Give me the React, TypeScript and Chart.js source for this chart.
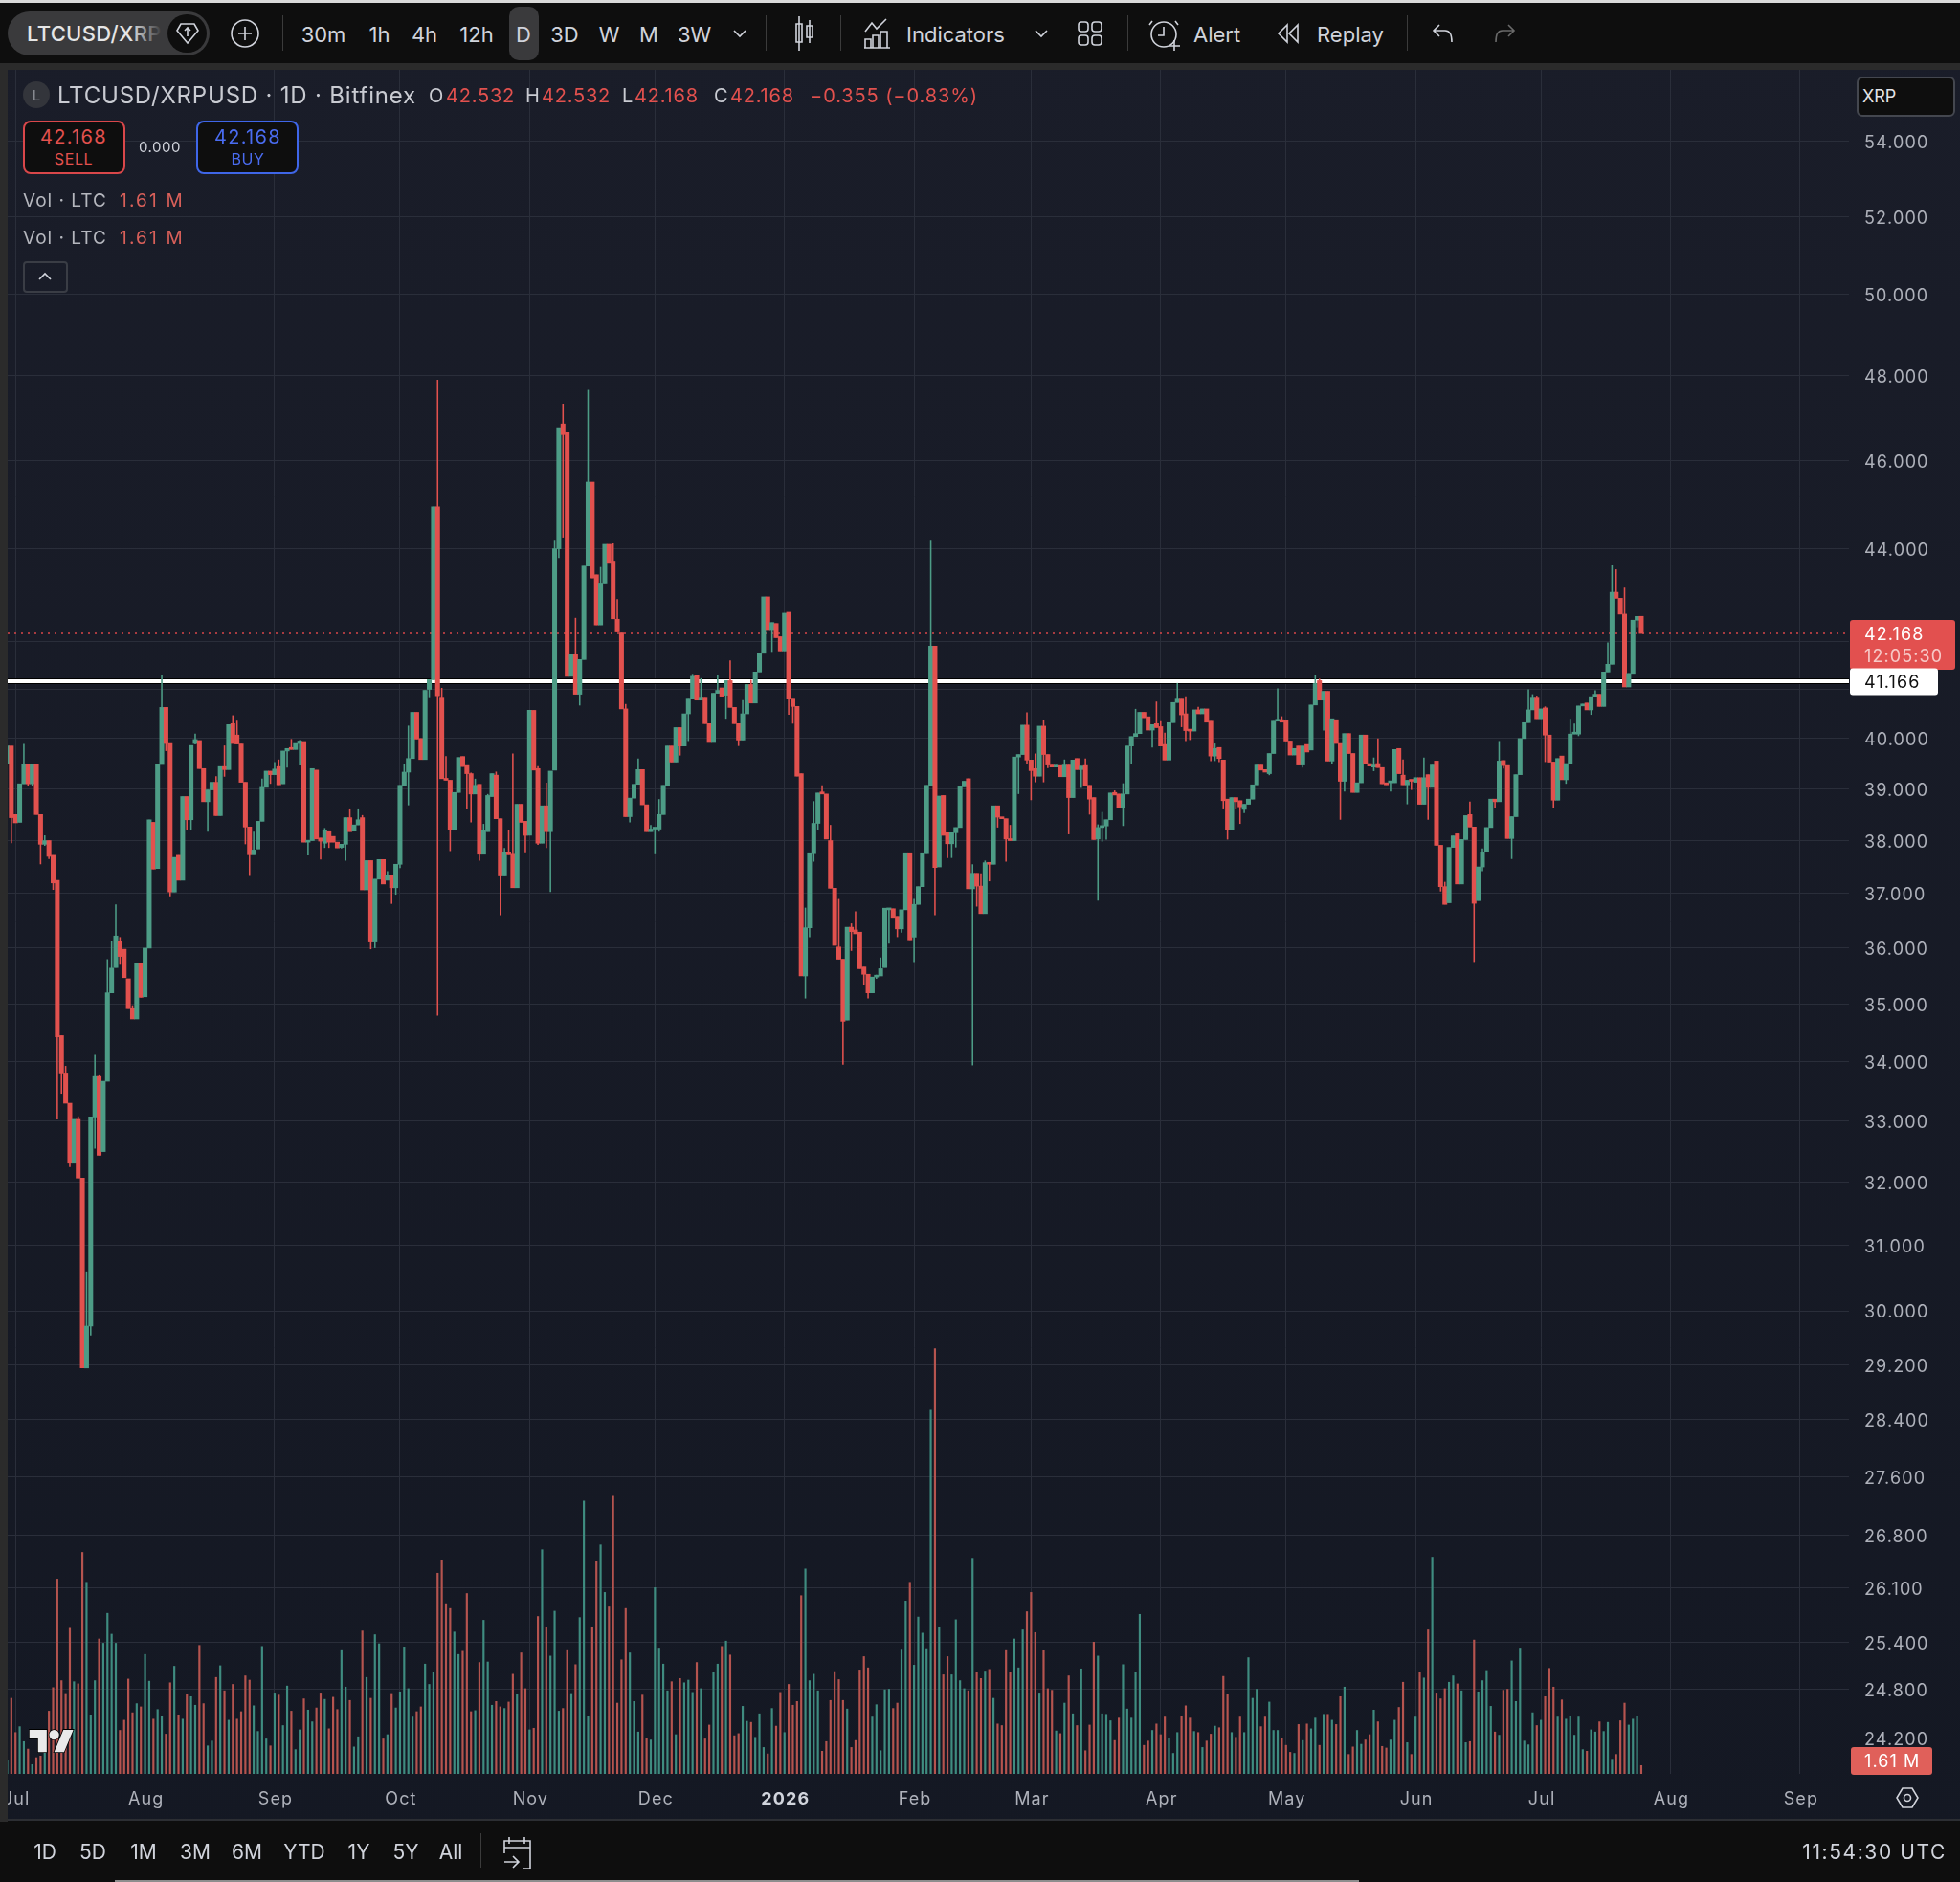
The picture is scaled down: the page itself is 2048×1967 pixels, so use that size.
import React, { useEffect, useRef } from "react";
import { Chart, registerables } from "chart.js";

Chart.register(...registerables);

// Days are counted from 1 Jul 2025 (day 0). The first candle is day -2.
const firstDay = -2;

const opens = [
  39.5, 39.85,
  38.5, 38.35, 39.1, 39.48, 39.1, 39.48, 38.5, 37.93, 38.0, 37.72,
  37.25, 34.45, 33.81, 33.3, 32.31, 33.03, 32.07, 29.15, 29.77, 33.07,
  33.75, 32.5, 33.67, 35.2, 35.65, 36.12, 35.98, 35.45, 34.92, 34.74,
  35.73, 35.13, 36.0, 38.35, 37.47, 39.48, 40.63, 39.9, 37.03, 37.72,
  37.25, 38.85, 38.4, 39.9, 39.96, 39.4, 38.75, 38.98, 39.13, 38.48,
  39.44, 39.38, 40.3, 40.07, 39.89, 39.13, 38.26, 37.73, 37.84, 38.37,
  39.03, 39.35, 39.28, 39.44, 39.1, 39.75, 39.82, 39.78, 39.9, 39.94,
  37.97, 38.0, 39.37, 38.05, 37.95, 38.17, 38.08, 37.97, 37.87, 37.93,
  38.44, 38.18, 38.3, 38.44, 37.07, 37.62, 36.11, 37.27, 37.64, 37.25,
  37.34, 37.11, 37.55, 39.07, 39.33, 39.6, 40.53, 40.0, 39.58, 41.0,
  41.2, 44.94, 40.82, 39.2, 39.17, 38.2, 38.93, 39.64, 39.46, 39.3,
  38.9, 39.09, 37.74, 38.17, 38.85, 39.27, 38.42, 37.33, 37.77, 37.74,
  37.11, 38.7, 38.37, 38.1, 40.57, 39.4, 37.95, 38.67, 38.17, 39.37,
  44.0, 46.85, 46.65, 41.27, 41.72, 40.9, 41.62, 43.62, 45.5, 43.43,
  42.35, 43.25, 44.1, 43.73, 42.47, 42.18, 40.6, 38.46, 38.82, 39.09,
  39.38, 38.69, 38.17, 38.22, 38.22, 38.5, 39.07, 39.85, 39.53, 40.22,
  39.85, 40.5, 40.8, 41.3, 40.78, 40.82, 40.3, 39.92, 40.92, 41.03,
  40.88, 41.18, 40.63, 40.3, 39.97, 40.5, 41.1, 40.72, 41.36, 41.75,
  42.95, 42.25, 42.38, 42.1, 41.8, 42.62, 40.8, 40.65, 39.3, 35.5,
  36.37, 37.75, 38.33, 38.94, 38.9, 38.0, 37.1, 36.02, 35.8, 34.72,
  36.38, 36.33, 36.29, 35.66, 35.53, 35.2, 35.48, 35.5, 35.65, 36.7,
  36.72, 36.58, 36.35, 36.7, 37.75, 36.2, 36.8, 37.13, 37.75, 39.07,
  41.9, 37.5, 38.87, 38.15, 37.94, 38.15, 38.25, 39.04, 39.2, 37.09,
  37.38, 37.14, 36.63, 37.58, 37.55, 38.67, 38.45, 38.42, 38.03, 38.0,
  39.63, 39.68, 40.27, 39.57, 39.4, 39.25, 40.25, 39.68, 39.47, 39.43,
  39.46, 39.24, 39.47, 38.83, 39.6, 39.38, 39.46, 39.07, 38.83, 38.03,
  38.25, 38.28, 38.4, 38.93, 38.9, 38.63, 38.9, 39.85, 40.04, 40.1,
  40.53, 40.44, 40.17, 40.3, 40.24, 39.88, 39.57, 40.32, 40.73, 40.8,
  40.5, 40.18, 40.15, 40.58, 40.5, 40.6, 40.35, 39.65, 39.82, 39.57,
  38.8, 38.2, 38.83, 38.77, 38.6, 38.7, 38.8, 39.08, 39.47, 39.38,
  39.3, 39.7, 40.35, 40.38, 40.36, 39.95, 39.67, 39.85, 39.47, 39.88,
  39.77, 40.68, 41.18, 40.78, 40.96, 39.55, 40.38, 39.9, 39.15, 40.1,
  39.7, 38.93, 39.12, 40.07, 39.5, 39.43, 39.5, 39.42, 39.12, 39.12,
  39.12, 39.8, 39.27, 39.08, 39.18, 39.13, 39.22, 38.7, 39.28, 39.03,
  39.55, 37.91, 37.13, 36.83, 37.87, 38.13, 37.18, 38.02, 38.5, 38.26,
  36.87, 37.5, 37.78, 38.25, 38.8, 38.75, 39.56, 39.46, 38.04, 38.46,
  39.28, 40.0, 40.32, 40.58, 40.82, 40.4, 40.62, 40.07, 39.53, 38.78,
  39.65, 39.18, 39.5, 40.09, 40.09, 40.66, 40.72, 40.58, 40.85, 40.9,
  40.65, 41.36, 41.52, 43.05, 42.92, 42.58, 41.05, 41.33, 42.45, 42.532,
];

const closes = [
  39.85, 38.44,
  38.34, 39.1, 39.48, 39.1, 39.48, 38.5, 37.93, 38.0, 37.7, 37.2,
  34.43, 33.81, 33.3, 32.31, 33.03, 32.07, 29.15, 29.77, 33.07, 33.75,
  32.44, 33.67, 35.2, 35.64, 36.22, 35.85, 35.47, 34.92, 34.74, 35.73,
  35.12, 36.0, 38.4, 37.46, 39.48, 40.63, 39.9, 37.03, 37.68, 37.25,
  38.85, 38.4, 39.86, 39.98, 39.4, 38.75, 38.98, 39.13, 38.48, 39.44,
  39.38, 40.28, 39.9, 39.89, 39.13, 38.26, 37.73, 37.82, 38.37, 39.03,
  39.35, 39.28, 39.39, 39.08, 39.75, 39.8, 39.78, 39.9, 39.95, 37.97,
  38.0, 39.4, 38.03, 37.99, 38.2, 37.97, 37.97, 37.86, 37.93, 38.44,
  38.17, 38.3, 38.4, 37.07, 37.62, 36.11, 37.27, 37.64, 37.18, 37.34,
  37.11, 37.55, 39.07, 39.33, 39.6, 40.53, 39.99, 39.58, 40.98, 41.2,
  44.94, 40.87, 39.2, 39.17, 38.2, 38.93, 39.62, 39.44, 39.3, 38.9,
  39.07, 37.74, 38.2, 38.87, 39.3, 38.42, 37.33, 37.77, 37.73, 37.11,
  38.7, 38.35, 38.1, 40.57, 39.37, 37.95, 38.67, 38.17, 39.35, 44.0,
  46.76, 46.6, 41.27, 41.72, 40.9, 41.62, 43.62, 45.5, 43.36, 42.35,
  43.25, 44.1, 43.7, 42.48, 42.2, 40.6, 38.46, 38.82, 39.09, 39.38,
  38.69, 38.17, 38.22, 38.24, 38.5, 39.07, 39.85, 39.53, 40.22, 39.85,
  40.5, 40.8, 41.27, 40.78, 40.82, 40.3, 39.92, 40.92, 40.98, 40.86,
  41.18, 40.63, 40.3, 39.97, 40.5, 41.1, 40.72, 41.36, 41.75, 42.95,
  42.25, 42.4, 42.08, 41.8, 42.6, 40.8, 40.65, 39.25, 35.5, 36.37,
  37.75, 38.33, 38.92, 38.9, 38.03, 37.1, 36.05, 35.8, 34.7, 36.38,
  36.3, 36.26, 35.63, 35.53, 35.2, 35.48, 35.51, 35.63, 36.73, 36.73,
  36.56, 36.35, 36.7, 37.75, 36.15, 36.8, 37.13, 37.75, 39.07, 41.9,
  37.49, 38.86, 38.1, 37.94, 38.15, 38.25, 39.04, 39.15, 37.09, 37.38,
  37.14, 36.63, 37.58, 37.55, 38.67, 38.45, 38.42, 38.03, 38.0, 39.63,
  39.68, 40.27, 39.57, 39.36, 39.25, 40.25, 39.68, 39.47, 39.43, 39.46,
  39.24, 39.47, 38.83, 39.57, 39.38, 39.45, 39.07, 38.8, 38.02, 38.25,
  38.28, 38.4, 38.92, 38.88, 38.63, 38.9, 39.85, 40.04, 40.1, 40.53,
  40.42, 40.17, 40.28, 40.22, 39.85, 39.57, 40.32, 40.73, 40.8, 40.48,
  40.16, 40.15, 40.58, 40.5, 40.6, 40.33, 39.65, 39.8, 39.6, 38.77,
  38.2, 38.83, 38.75, 38.65, 38.7, 38.8, 39.08, 39.47, 39.37, 39.33,
  39.7, 40.35, 40.38, 40.33, 39.95, 39.67, 39.8, 39.47, 39.85, 39.73,
  40.68, 41.12, 40.78, 40.96, 39.55, 40.4, 39.9, 39.15, 40.1, 39.7,
  38.93, 39.12, 40.07, 39.5, 39.45, 39.47, 39.42, 39.1, 39.08, 39.14,
  39.78, 39.3, 39.08, 39.17, 39.15, 39.22, 38.7, 39.22, 39.03, 39.47,
  37.91, 37.13, 36.8, 37.87, 38.09, 37.18, 38.02, 38.48, 38.26, 36.82,
  37.5, 37.78, 38.25, 38.8, 38.75, 39.55, 39.46, 38.04, 38.46, 39.28,
  40.0, 40.32, 40.58, 40.82, 40.4, 40.6, 40.07, 39.53, 38.78, 39.6,
  39.18, 39.5, 40.09, 40.1, 40.66, 40.7, 40.58, 40.85, 40.9, 40.65,
  41.36, 41.52, 43.05, 42.92, 42.58, 41.05, 41.33, 42.45, 42.53, 42.168,
];

const highs = [
  39.85, 39.85,
  38.5, 39.1, 39.89, 39.48, 39.48, 39.48, 38.5, 38.1, 38.0, 37.72,
  37.25, 34.45, 33.93, 33.3, 33.03, 33.08, 32.07, 30.6, 33.07, 34.12,
  33.77, 33.67, 35.8, 36.12, 36.8, 36.2, 35.98, 35.45, 34.98, 35.73,
  35.73, 36.0, 38.4, 38.35, 39.48, 41.3, 40.63, 39.9, 37.68, 37.72,
  38.85, 38.85, 39.86, 40.1, 39.96, 39.4, 38.98, 39.13, 39.25, 39.44,
  39.86, 40.28, 40.47, 40.36, 39.89, 39.13, 38.26, 38.17, 38.37, 39.2,
  39.35, 39.35, 39.53, 39.58, 39.75, 39.8, 39.99, 39.9, 39.97, 39.94,
  38.0, 39.4, 39.37, 38.05, 38.24, 38.17, 38.08, 37.97, 37.93, 38.44,
  38.6, 38.3, 38.6, 38.49, 37.62, 37.62, 37.27, 37.64, 37.64, 37.42,
  37.34, 37.55, 39.07, 39.5, 40.26, 40.53, 40.53, 40.0, 40.98, 41.2,
  44.94, 47.9, 41.03, 39.65, 39.17, 38.93, 39.62, 39.64, 39.46, 39.32,
  39.2, 39.09, 38.32, 38.9, 39.3, 39.34, 38.42, 37.86, 38.2, 39.7,
  38.7, 38.7, 38.37, 40.57, 40.57, 39.45, 38.67, 39.12, 39.35, 44.2,
  46.76, 47.33, 46.65, 41.72, 42.5, 41.62, 43.62, 47.66, 45.5, 43.43,
  43.6, 44.1, 44.1, 44.12, 42.9, 42.18, 40.7, 38.82, 39.09, 39.6,
  39.38, 38.69, 38.3, 38.24, 38.8, 39.07, 39.85, 39.85, 40.22, 40.22,
  40.5, 40.8, 41.32, 41.3, 41.23, 40.82, 40.3, 40.92, 41.29, 41.03,
  41.18, 41.6, 40.63, 40.3, 40.78, 41.1, 41.2, 41.36, 41.75, 42.95,
  42.95, 42.4, 42.38, 42.1, 42.6, 42.62, 40.8, 40.65, 39.3, 36.74,
  37.75, 38.76, 38.92, 39.07, 38.9, 38.3, 37.1, 36.9, 35.8, 36.38,
  36.45, 36.67, 36.29, 35.66, 35.53, 35.48, 35.52, 35.83, 36.73, 36.73,
  36.72, 36.58, 36.7, 37.75, 37.75, 36.9, 37.13, 37.75, 39.07, 44.2,
  41.9, 38.86, 38.87, 38.15, 38.15, 38.25, 39.04, 39.15, 39.2, 37.55,
  37.38, 37.38, 37.62, 37.58, 38.67, 38.67, 38.45, 38.42, 38.3, 39.63,
  39.68, 40.27, 40.53, 39.57, 39.7, 40.25, 40.38, 39.68, 39.47, 39.47,
  39.46, 39.58, 39.47, 39.57, 39.6, 39.45, 39.6, 39.07, 38.83, 38.31,
  38.55, 38.4, 38.92, 38.97, 38.9, 39.11, 39.85, 40.04, 40.6, 40.53,
  40.53, 40.44, 40.28, 40.75, 40.35, 40.12, 40.32, 40.73, 41.13, 40.8,
  40.86, 40.18, 40.58, 40.64, 40.6, 40.6, 40.35, 39.9, 39.82, 39.57,
  38.8, 38.83, 38.83, 38.77, 38.7, 38.8, 39.08, 39.47, 39.47, 39.38,
  39.7, 40.35, 41.02, 40.45, 40.36, 39.95, 39.8, 39.85, 39.85, 39.88,
  40.68, 41.3, 41.22, 40.96, 40.96, 40.4, 40.38, 39.9, 40.1, 40.1,
  39.7, 39.12, 40.07, 40.07, 39.5, 39.62, 40.0, 39.42, 39.12, 39.14,
  39.78, 39.8, 39.58, 39.17, 39.18, 39.22, 39.22, 39.62, 39.28, 39.47,
  39.55, 37.91, 37.22, 37.87, 38.09, 38.13, 38.02, 38.48, 38.75, 38.26,
  37.5, 37.85, 38.25, 38.8, 38.8, 39.95, 39.56, 39.46, 38.46, 39.28,
  40.0, 40.32, 41.0, 40.9, 40.87, 40.6, 40.65, 40.07, 39.53, 39.6,
  39.65, 39.5, 40.4, 40.3, 40.66, 40.7, 40.72, 40.85, 40.98, 40.9,
  41.36, 41.98, 43.65, 43.55, 42.92, 43.15, 41.33, 42.45, 42.53, 42.532,
];

const lows = [
  39.5, 37.95,
  38.34, 38.35, 39.1, 39.05, 39.05, 38.5, 37.55, 37.9, 37.65, 37.07,
  33.03, 33.46, 33.3, 32.25, 32.31, 32.07, 29.15, 29.15, 29.63, 32.55,
  32.44, 32.5, 33.67, 35.2, 35.65, 35.7, 35.47, 34.92, 34.74, 34.74,
  35.12, 35.13, 36.0, 37.46, 37.47, 39.48, 39.75, 36.95, 37.03, 37.25,
  37.25, 38.2, 38.2, 39.88, 39.4, 38.75, 38.17, 38.98, 38.48, 38.48,
  39.24, 39.38, 39.9, 39.89, 39.13, 37.93, 37.33, 37.73, 37.84, 38.37,
  39.03, 39.1, 39.28, 39.08, 39.1, 39.42, 39.78, 39.78, 39.46, 37.97,
  37.72, 38.0, 38.03, 37.64, 37.86, 37.86, 37.97, 37.86, 37.85, 37.62,
  38.17, 38.18, 38.3, 37.07, 37.07, 35.98, 36.0, 37.27, 37.18, 37.25,
  36.81, 36.98, 37.48, 39.07, 38.68, 39.6, 39.99, 39.58, 39.58, 40.82,
  41.2, 34.8, 39.2, 39.17, 37.8, 38.2, 38.93, 39.44, 38.6, 38.35,
  38.9, 37.62, 37.74, 38.17, 38.85, 38.42, 36.6, 37.33, 37.73, 37.11,
  37.11, 38.35, 37.76, 38.1, 39.37, 37.92, 37.95, 37.86, 37.03, 39.37,
  43.8, 44.25, 41.27, 41.27, 40.9, 40.67, 41.62, 43.62, 43.36, 42.35,
  42.35, 43.25, 43.7, 42.48, 42.2, 40.6, 38.46, 38.35, 38.82, 39.09,
  38.69, 38.17, 38.17, 37.74, 38.17, 38.5, 39.07, 39.53, 39.53, 39.66,
  39.85, 39.95, 40.8, 40.78, 40.78, 40.3, 39.92, 39.92, 40.92, 40.86,
  40.4, 40.63, 40.3, 39.85, 39.97, 40.5, 40.72, 40.72, 41.36, 41.75,
  42.25, 41.78, 42.08, 41.8, 41.8, 40.48, 40.3, 39.25, 35.5, 35.1,
  36.2, 37.6, 38.2, 38.9, 38.03, 37.1, 36.05, 35.8, 33.95, 34.72,
  35.95, 36.26, 35.63, 35.33, 35.1, 35.2, 35.45, 35.5, 35.65, 36.08,
  36.56, 36.2, 36.28, 36.7, 36.15, 35.75, 36.8, 37.13, 37.75, 39.07,
  36.6, 37.5, 38.1, 37.67, 37.67, 37.87, 38.25, 39.04, 37.09, 33.94,
  36.76, 36.63, 36.63, 37.23, 37.55, 38.25, 38.42, 37.6, 38.0, 38.0,
  38.9, 39.68, 39.5, 38.78, 39.13, 39.25, 39.13, 39.41, 39.43, 39.43,
  39.24, 39.24, 38.12, 38.83, 39.38, 39.02, 39.07, 38.5, 38.02, 36.87,
  37.98, 38.02, 38.4, 38.88, 38.63, 38.28, 38.9, 39.5, 40.04, 40.1,
  40.42, 40.17, 39.82, 40.22, 39.85, 39.57, 39.57, 40.32, 40.73, 40.23,
  39.95, 39.97, 40.15, 40.5, 40.5, 40.33, 39.55, 39.55, 39.53, 38.6,
  38.02, 38.2, 38.6, 38.32, 38.53, 38.7, 38.8, 39.08, 39.37, 39.33,
  39.27, 39.7, 40.35, 40.33, 39.95, 39.67, 39.67, 39.47, 39.42, 39.73,
  39.77, 40.68, 40.78, 40.16, 39.55, 39.5, 39.9, 38.4, 38.95, 39.7,
  38.93, 38.93, 39.12, 39.5, 39.45, 39.35, 39.42, 39.1, 39.08, 38.95,
  39.12, 39.3, 39.08, 38.7, 38.98, 39.13, 38.7, 38.7, 38.4, 39.03,
  37.91, 37.04, 36.8, 36.83, 37.87, 37.18, 37.18, 38.02, 38.26, 35.75,
  36.87, 37.42, 37.78, 38.25, 38.62, 38.75, 39.4, 38.04, 37.65, 38.46,
  39.28, 40.0, 40.32, 40.58, 40.4, 40.4, 39.53, 39.53, 38.62, 38.78,
  39.18, 39.1, 39.5, 40.09, 40.05, 40.66, 40.58, 40.48, 40.85, 40.65,
  40.65, 41.36, 41.52, 42.92, 42.58, 41.05, 41.05, 41.33, 42.3, 42.168,
];

// Volume, millions of LTC
const volumes = [
  2.6, 14.2,
  7.8, 8.9, 6.1, 4.7, 1.8, 3.1, 3.4, 4.9, 11.8, 16.2,
  36.5, 17.5, 15.1, 27.3, 17.3, 16.9, 41.5, 35.9, 11.1, 17.5,
  25.3, 24.5, 30.1, 26.2, 24.5, 8.2, 10.1, 17.8, 11.5, 13.2,
  12.6, 22.4, 17.4, 10.3, 12.1, 10.9, 7.5, 17.1, 20.2, 11.1,
  10.3, 15, 14.5, 12.9, 24.1, 13.2, 5.3, 6.2, 18.1, 20.3,
  15.6, 10.1, 16.8, 10.3, 11.7, 18.4, 17.6, 12.8, 8, 23.9,
  6.6, 5.3, 15.2, 14.8, 9.1, 16.5, 11.8, 4.6, 8.3, 14.1,
  12, 9.8, 12.4, 15.2, 14, 8.5, 14.4, 12.1, 23.3, 16.3,
  13.8, 5.1, 7, 26.8, 18.1, 14.2, 26.1, 24.4, 6.6, 7.4,
  15.1, 12.4, 15.4, 23.8, 16, 10.7, 11.7, 12.6, 20.6, 16.8,
  19.1, 37.6, 40.1, 31.9, 31, 26.6, 22.4, 23, 33.8, 11.7,
  11.9, 20.9, 28.8, 21, 12.9, 13.6, 12.6, 12.3, 13.5, 18.7,
  15, 22.7, 16, 8.3, 8.6, 29.5, 42, 27.5, 22.1, 30.5,
  11.8, 12.3, 23.3, 15.1, 20.5, 29.3, 51.1, 10.9, 27.5, 39.8,
  42.9, 34, 31.3, 52, 13.3, 21.4, 31, 22.7, 13.6, 7.9,
  14.8, 6.7, 6.4, 34.9, 23.6, 20.6, 15.6, 17.3, 7.4, 17.9,
  17.1, 17.6, 15.3, 20.9, 16, 6.6, 9.2, 19, 20.6, 23.9,
  24.9, 22.3, 7.2, 7.6, 12.7, 9.9, 9.7, 6.9, 11.3, 5,
  3.8, 12.3, 9, 15.3, 7.8, 16.8, 12.9, 13.6, 33.4, 38.4,
  17.5, 18.7, 15.6, 4.3, 6.1, 13.8, 19.2, 17.7, 13.8, 12.2,
  5, 6.3, 19.5, 22, 19.9, 10.7, 13, 4.4, 15.8, 15.9,
  12.3, 13.3, 23.4, 32.4, 35.9, 20.4, 29.4, 26.4, 23.5, 68.1,
  79.6, 27.4, 18.6, 22, 18.6, 28.9, 17.5, 16, 15.6, 40.4,
  19.1, 17.9, 19.3, 19.6, 14.2, 9.4, 9.1, 23.3, 19, 25.3,
  19.9, 27, 30.4, 34, 26.5, 15.2, 23.2, 16, 15.7, 8.1,
  7.6, 13.3, 18.4, 11.3, 9.1, 19.7, 4.4, 9.2, 24.7, 22.1,
  11.3, 11.2, 10, 6.3, 10.5, 20.5, 12.2, 10.5, 19, 29.9,
  5.4, 6.2, 8.2, 9.4, 7.4, 10.7, 6.7, 3.9, 7.8, 10.9,
  12.8, 10.5, 8, 7.8, 5, 6.2, 7.5, 9, 8.7, 18.3,
  14.9, 7.8, 6.9, 10.7, 7.8, 21.8, 14.2, 15.9, 8.9, 10.7,
  13.5, 8.2, 8.2, 6.7, 5.4, 4.1, 3.9, 9.3, 6.3, 9.4,
  8.5, 10.5, 5.4, 11.2, 11.2, 10.1, 9.3, 14.5, 16.3, 3.7,
  5.1, 8.2, 5.6, 6.4, 7.4, 12, 9.8, 5.2, 4.9, 6.4,
  10.1, 12.5, 17.2, 5.9, 3.7, 10.7, 19.1, 18, 27, 40.6,
  15.2, 14.1, 16, 17.2, 18.4, 16.9, 15.6, 5.9, 6.1, 25.1,
  15.4, 17.5, 19.4, 12.7, 7.9, 7.3, 15.7, 15.9, 21.2, 13.6,
  23.6, 6.2, 5.5, 11.5, 9.1, 10.1, 14.5, 19.8, 16.3, 10.7,
  13.9, 10.3, 10.9, 7.3, 10.7, 4.6, 4.3, 8.3, 7.9, 9.8,
  8, 9.7, 2.8, 3.7, 10, 13.3, 9.2, 10.3, 10.9, 1.61,
];

const priceTicks = [
  54, 52, 50, 48, 46, 44, 42, 41, 40, 39, 38, 37, 36, 35, 34, 33, 32, 31, 30,
  29.2, 28.4, 27.6, 26.8, 26.1, 25.4, 24.8, 24.2,
];
// Grid lines with no label: the price badges sit on them.
const unlabelledTicks = [42, 41];
const monthDays = [0, 31, 62, 92, 123, 153, 184, 215, 243, 274, 304, 335, 365, 396, 427];
const monthLabels = ["Jul", "Aug", "Sep", "Oct", "Nov", "Dec", "2026", "Feb", "Mar", "Apr", "May", "Jun", "Jul", "Aug", "Sep"];
const yearDay = 184;

const lastPrice = 42.168;
const levelPrice = 41.166;
const lastVolume = 1.61;
const countdown = "12:05:30";

const xMin = -1.878;
const xMax = 438.7;
const yMin = 23.77;
const yMax = 55.98;
const volMax = 318.8;

const rangeItems: [string, number][] = [["1D", 47], ["5D", 97], ["1M", 150], ["3M", 204], ["6M", 258], ["YTD", 318], ["1Y", 375], ["5Y", 424], ["All", 471]];
const intervalItems: [string, number][] = [["30m", 338], ["1h", 396.5], ["4h", 443.5], ["12h", 498], ["D", 547], ["3D", 590], ["W", 636.5], ["M", 678], ["3W", 725.6]];

const GREEN = "#4d9c86";
const RED = "#e2514e";
const VOL_GREEN = "#3f8c80";
const VOL_RED = "#b5544f";
const FONT = "Inter, 'Noto Sans', sans-serif";

const days = opens.map((_, i) => i + firstDay);
const isUp = (i: number) => closes[i] >= opens[i];

const Txt = ({ x, y, c = "#d1d4dc", s = 20, w = 400, a = "left", ls = 0, children }: any) => (
  <div
    style={{
      position: "absolute",
      left: x,
      top: y,
      color: c,
      fontSize: s,
      fontWeight: w,
      fontFamily: FONT,
      letterSpacing: ls,
      lineHeight: 1,
      whiteSpace: "nowrap",
      transform: `translate(${a === "center" ? "-50%" : a === "right" ? "-100%" : "0"}, -50%)`,
    }}
  >
    {children}
  </div>
);

const Box = ({ x, y, w, h, bg = "none", b, r = 0 }: any) => (
  <div
    style={{
      position: "absolute",
      left: x,
      top: y,
      width: w,
      height: h,
      background: bg,
      border: b ? `2px solid ${b}` : undefined,
      borderRadius: r,
      boxSizing: "border-box",
    }}
  />
);

const Icon = ({ x, y, w, h, vb, children }: any) => (
  <svg
    style={{ position: "absolute", left: x, top: y }}
    width={w}
    height={h}
    viewBox={vb || `0 0 ${w} ${h}`}
    fill="none"
    stroke="#d1d4dc"
    strokeWidth={1.6}
  >
    {children}
  </svg>
);

const overlayPlugin = {
  id: "priceBadges",
  beforeDraw(chart: any) {
    chart.ctx.letterSpacing = "1.1px";
  },
  afterDraw(chart: any) {
    const { ctx, scales } = chart;
    const yS = scales.y;
    const right = chart.chartArea.right;
    ctx.save();
    ctx.textBaseline = "middle";
    ctx.textAlign = "left";
    // last price badge
    const yLast = yS.getPixelForValue(lastPrice);
    ctx.fillStyle = "#e2504f";
    ctx.beginPath();
    ctx.roundRect(right + 1, yLast - 14, 110, 52, 3);
    ctx.fill();
    ctx.font = `18px ${FONT}`;
    ctx.fillStyle = "#ffffff";
    ctx.fillText(lastPrice.toFixed(3), right + 16, yLast + 1);
    ctx.fillStyle = "#f7c9c7";
    ctx.fillText(countdown, right + 16, yLast + 24);
    // horizontal level badge
    const yLevel = yS.getPixelForValue(levelPrice);
    ctx.fillStyle = "#ffffff";
    ctx.beginPath();
    ctx.roundRect(right + 1, yLevel - 13.5, 92, 28, 3);
    ctx.fill();
    ctx.fillStyle = "#0f0f0f";
    ctx.fillText(levelPrice.toFixed(3), right + 16, yLevel + 1.5);
    // volume badge
    const vS = scales.vol;
    const yVol = vS.getPixelForValue(0);
    ctx.fillStyle = "#e0605a";
    ctx.beginPath();
    ctx.roundRect(right + 2, yVol - 28, 85, 29, 3);
    ctx.fill();
    ctx.fillStyle = "#ffffff";
    ctx.fillText(`${lastVolume.toFixed(2).slice(0, 4)} M`, right + 16, yVol - 12);
    ctx.restore();
  },
};

export default function App() {
  const ref = useRef<HTMLCanvasElement>(null);

  useEffect(() => {
    const shared = { clip: 0, grouped: false, categoryPercentage: 1 };
    const chart = new Chart(ref.current as HTMLCanvasElement, {
      type: "bar",
      data: {
        datasets: [
          {
            type: "line",
            label: "level outline",
            data: [{ x: xMin, y: levelPrice }, { x: xMax, y: levelPrice }],
            borderColor: "#000000",
            borderWidth: 6,
            pointRadius: 0,
            yAxisID: "y",
            order: 9,
          },
          {
            type: "line",
            label: "level",
            data: [{ x: xMin, y: levelPrice }, { x: xMax, y: levelPrice }],
            borderColor: "#ffffff",
            borderWidth: 4,
            pointRadius: 0,
            yAxisID: "y",
            order: 8,
          },
          {
            type: "line",
            label: "last price",
            data: [{ x: xMin, y: lastPrice }, { x: xMax, y: lastPrice }],
            borderColor: "#d8474a",
            borderWidth: 1.5,
            borderDash: [2, 5],
            pointRadius: 0,
            yAxisID: "y",
            order: 7,
          },
          {
            ...shared,
            label: "Vol",
            data: days.map((d, i) => ({ x: d, y: volumes[i] })),
            backgroundColor: days.map((_, i) => (isUp(i) ? VOL_GREEN : VOL_RED)),
            barPercentage: 0.5,
            yAxisID: "vol",
            order: 6,
          },
          {
            ...shared,
            label: "wick",
            data: days.map((d, i) => ({ x: d, y: [lows[i], highs[i]] })),
            backgroundColor: days.map((_, i) => (isUp(i) ? GREEN : RED)),
            barPercentage: 0.36,
            yAxisID: "y",
            order: 2,
          },
          {
            ...shared,
            label: "body",
            data: days.map((d, i) => ({ x: d, y: [opens[i], closes[i]] })),
            backgroundColor: days.map((_, i) => (isUp(i) ? GREEN : RED)),
            barPercentage: 1,
            minBarLength: 2,
            yAxisID: "y",
            order: 1,
          },
        ] as any,
      },
      options: {
        animation: false,
        responsive: false,
        devicePixelRatio: 1,
        events: [],
        layout: { padding: { top: 73, left: 8, right: 0, bottom: 0 } },
        plugins: { legend: { display: false }, tooltip: { enabled: false } },
        scales: {
          x: {
            type: "linear",
            min: xMin,
            max: xMax,
            bounds: "data",
            offset: false,
            afterBuildTicks: (s: any) => {
              s.ticks = monthDays.map((v) => ({ value: v }));
            },
            afterFit: (s: any) => {
              s.height = 113;
              s.paddingLeft = 0;
              s.paddingRight = 0;
            },
            grid: { color: "#2a2e3a", lineWidth: 1, drawTicks: false, offset: false },
            border: { display: false },
            ticks: {
              autoSkip: false,
              maxRotation: 0,
              padding: 16,
              labelOffset: 1,
              color: (c: any) => (c.tick && c.tick.value === yearDay ? "#d1d4dc" : "#aeb1ba"),
              font: (c: any) => ({
                family: FONT,
                size: 18,
                weight: c.tick && c.tick.value === yearDay ? "bold" : "normal",
              }),
              callback: (v: any) => monthLabels[monthDays.indexOf(v)],
            },
          },
          y: {
            type: "logarithmic",
            position: "right",
            min: yMin,
            max: yMax,
            bounds: "data",
            afterBuildTicks: (s: any) => {
              s.ticks = priceTicks.map((v) => ({ value: v }));
            },
            afterFit: (s: any) => {
              s.width = 116;
            },
            grid: { color: "#2a2e3a", lineWidth: 1, drawTicks: false },
            border: { display: false },
            ticks: {
              autoSkip: false,
              padding: 16,
              labelOffset: 2,
              crossAlign: "near",
              color: "#aeb1ba",
              font: { family: FONT, size: 18 },
              callback: (v: any) => (unlabelledTicks.includes(Number(v)) ? "" : Number(v).toFixed(3)),
            },
          },
          vol: {
            type: "linear",
            display: false,
            min: 0,
            max: volMax,
            bounds: "data",
            grid: { display: false },
          },
        },
      } as any,
      plugins: [overlayPlugin],
    });
    return () => chart.destroy();
  }, []);

  return (
    <div style={{ position: "absolute", left: 0, top: 0, width: 2048, height: 1967, overflow: "hidden", background: "#0e0e0e" }}>
      <canvas
        ref={ref}
        width={2048}
        height={1967}
        style={{ position: "absolute", left: 0, top: 0, width: 2048, height: 1967, background: "linear-gradient(#1a1d29, #141823)" }}
      />

      {/* lower panel border and strip */}
      <Box x={8} y={1901} w={2040} h={2} bg="#2c2e33" />
      <Box x={0} y={1903} w={2048} h={64} bg="#0e0e0e" />
      <Box x={120} y={1965} w={1300} h={2} bg="#8d8d8d" />

      {/* top bars */}
      <Box x={0} y={0} w={2048} h={66} bg="#0e0e0e" />
      <Box x={0} y={0} w={2048} h={3} bg="#d9d9d9" />
      <Box x={0} y={66} w={2048} h={7} bg="#2b2b2b" />
      <Box x={0} y={66} w={8} h={1838} bg="#2b2b2b" />

      {/* symbol pill */}
      <Box x={8} y={12} w={211} h={46} bg="#3a3a3c" r={23} />
      <Txt x={28} y={35} s={22} w={500} c="#e6e6e6" ls={0.3}>LTCUSD/XRP</Txt>
      <Box x={136} y={12} w={36} h={46} bg="linear-gradient(90deg, rgba(58,58,60,0), #3a3a3c 92%)" />
      <Box x={175} y={15} w={41} h={40} bg="#0e0e0e" r={20} />
      <Icon x={183} y={23} w={26} h={24}>
        <path d="M6 2h14l4 7-11 13L2 9Z" />
        <path d="M13 6v9M10 9l3-3 3 3" />
      </Icon>
      <Icon x={240} y={19} w={32} h={32}>
        <circle cx={16} cy={16} r={14} />
        <path d="M16 9v14M9 16h14" />
      </Icon>
      <Box x={295} y={16} w={1} h={37} bg="#3b3b3b" />
      <Box x={532} y={7} w={31} h={56} bg="#3a3a3c" r={10} />
      {intervalItems.map(([t, x]) => (
        <Txt key={t} x={x} y={36} s={22} a="center">{t}</Txt>
      ))}
      <Icon x={765} y={30} w={16} h={12}>
        <path d="M2 2l6 6 6-6" />
      </Icon>
      <Box x={800} y={16} w={1} h={37} bg="#3b3b3b" />
      <Icon x={828} y={16} w={24} h={38}>
        <path d="M7 1v36M4 9h6v19H4ZM18 5v24M15 11h6v12h-6Z" />
      </Icon>
      <Box x={878} y={16} w={1} h={37} bg="#3b3b3b" />
      <Icon x={902} y={19} w={30} h={32}>
        <path d="M2 14l7-9 5 6 10-10" />
        <path d="M2 31v-9h6v9M10 31V18h6v13M18 31V14h7v17M1 31h27" />
      </Icon>
      <Txt x={947} y={36} s={22}>Indicators</Txt>
      <Icon x={1080} y={30} w={16} h={12}>
        <path d="M2 2l6 6 6-6" />
      </Icon>
      <Icon x={1126} y={22} w={26} h={26}>
        <rect x={1} y={1} width={10} height={10} rx={3} />
        <rect x={15} y={1} width={10} height={10} rx={3} />
        <rect x={1} y={15} width={10} height={10} rx={3} />
        <rect x={15} y={15} width={10} height={10} rx={3} />
      </Icon>
      <Box x={1178} y={16} w={1} h={37} bg="#3b3b3b" />
      <Icon x={1200} y={18} w={36} h={36}>
        <circle cx={16} cy={18} r={13} />
        <path d="M16 10v9h-6M4 4L1 8M28 4l3 4" />
        <path d="M27 24v11M21 30h12" />
      </Icon>
      <Txt x={1247} y={36} s={22}>Alert</Txt>
      <Icon x={1333} y={24} w={26} h={22}>
        <path d="M12 2L3 11l9 9ZM23 2l-9 9 9 9Z" />
      </Icon>
      <Txt x={1376} y={36} s={22}>Replay</Txt>
      <Box x={1470} y={16} w={1} h={37} bg="#3b3b3b" />
      <Icon x={1496} y={24} w={24} h={22}>
        <path d="M8 2L2 8l6 6M2 8h12c5 0 7 4 7 12" />
      </Icon>
      <Icon x={1560} y={24} w={24} h={22}>
        <path d="M16 2l6 6-6 6M22 8H10C5 8 3 12 3 20" stroke="#6a6a6a" />
      </Icon>

      {/* symbol legend */}
      <Box x={24} y={85} w={28} h={28} bg="#33353b" r={14} />
      <Txt x={38} y={99} s={15} a="center" c="#8d8f96">L</Txt>
      <Txt x={60} y={100} s={24} c="#c9cbd2" ls={0.8}>LTCUSD/XRPUSD · 1D · Bitfinex</Txt>
      <Txt x={448} y={100} s={20} c="#c9cbd2">O</Txt>
      <Txt x={466} y={100} s={20} c={RED} ls={0.8}>42.532</Txt>
      <Txt x={549} y={100} s={20} c="#c9cbd2">H</Txt>
      <Txt x={566} y={100} s={20} c={RED} ls={0.8}>42.532</Txt>
      <Txt x={650} y={100} s={20} c="#c9cbd2">L</Txt>
      <Txt x={663} y={100} s={20} c={RED} ls={0.8}>42.168</Txt>
      <Txt x={746} y={100} s={20} c="#c9cbd2">C</Txt>
      <Txt x={763} y={100} s={20} c={RED} ls={0.8}>42.168</Txt>
      <Txt x={846} y={100} s={20} c={RED} ls={0.9}>−0.355 (−0.83%)</Txt>

      <Box x={24} y={126} w={107} h={56} bg="#0e0e0e" b="#d9474a" r={8} />
      <Txt x={77} y={143} s={20} a="center" c={RED} ls={1.3}>42.168</Txt>
      <Txt x={77} y={166} s={16} a="center" c={RED} ls={0.6}>SELL</Txt>
      <Txt x={167} y={153} s={15} a="center" ls={0.5}>0.000</Txt>
      <Box x={205} y={126} w={107} h={56} bg="#0e0e0e" b="#3f66e8" r={8} />
      <Txt x={259} y={143} s={20} a="center" c="#4a6cf0" ls={1.3}>42.168</Txt>
      <Txt x={259} y={166} s={16} a="center" c="#4a6cf0" ls={0.6}>BUY</Txt>

      <Txt x={24} y={209} s={19} c="#b5b7be" ls={1}>Vol · LTC</Txt>
      <Txt x={125} y={209} s={19} c="#d9605a" ls={2.2}>1.61 M</Txt>
      <Txt x={24} y={248} s={19} c="#b5b7be" ls={1}>Vol · LTC</Txt>
      <Txt x={125} y={248} s={19} c="#d9605a" ls={2.2}>1.61 M</Txt>
      <Box x={24} y={273} w={47} h={33} b="#3a3d45" r={4} />
      <Icon x={39} y={284} w={16} h={10}>
        <path d="M2 8l6-6 6 6" />
      </Icon>

      {/* unit box */}
      <Box x={1940} y={80} w={103} h={42} bg="#0e0e0e" b="#44474f" r={6} />
      <Txt x={1946} y={101} s={18} c="#e3e4e8">XRP</Txt>

      {/* logo */}
      <svg style={{ position: "absolute", left: 26, top: 1804 }} width={56} height={31} viewBox="-1 1 38 24">
        <path
          d="M14 22H7V11H0V4h14v18zM28 22h-8l7.5-18h8L28 22z"
          fill="#e9e9ea"
          stroke="#000"
          strokeWidth={1.2}
          paintOrder="stroke"
        />
        <circle cx={20} cy={8} r={4} fill="#e9e9ea" stroke="#000" strokeWidth={1} paintOrder="stroke" />
      </svg>

      {/* axis gear */}
      <Icon x={1981} y={1867} w={24} h={24}>
        <path d="M7 2h10l6 10-6 10H7L1 12Z" />
        <circle cx={12} cy={12} r={3.5} />
      </Icon>

      {/* range bar */}
      {rangeItems.map(([t, x]) => (
        <Txt key={t} x={x} y={1935} s={21} a="center">{t}</Txt>
      ))}
      <Box x={502} y={1916} w={1} h={36} bg="#3b3b3b" />
      <Icon x={525} y={1917} w={32} h={36}>
        <path d="M2 20V7h27v30M7 3v7M23 3v7M2 14h27" />
        <path d="M2 29h15M11 23l6 6-6 6M21 36h8" />
      </Icon>
      <Txt x={2034} y={1935} s={21} a="right" c="#d1d4dc" ls={1.6}>11:54:30 UTC</Txt>
    </div>
  );
}
